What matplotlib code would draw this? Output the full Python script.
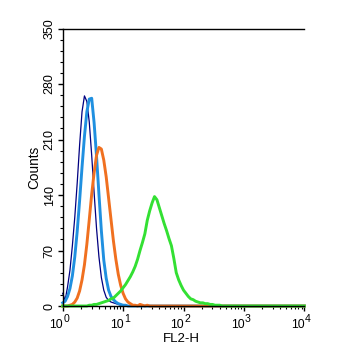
import numpy as np
import matplotlib
matplotlib.use("Agg")
import matplotlib.pyplot as plt
from matplotlib.ticker import MultipleLocator, LogLocator, NullFormatter

# channel positions (log10 of FL2-H), 0.04-decade bins from 10^0 to 10^4
channel_log = np.linspace(0, 4, 101)

navy = [16, 7, 24, 45, 76, 112, 155, 203, 245, 265,
        258, 232, 190, 143, 98, 62, 36, 20, 11, 7,
        5, 4, 3, 2, 1, 1, 0, 0, 0, 0,
        0, 0, 0, 0, 0, 0, 0, 0, 0, 0,
        0, 0, 0, 0, 0, 0, 0, 0, 0, 0,
        0, 0, 0, 0, 0, 0, 0, 0, 0, 0,
        0, 0, 0, 0, 0, 0, 0, 0, 0, 0,
        0, 0, 0, 0, 0, 0, 0, 0, 0, 0,
        0, 0, 0, 0, 0, 0, 0, 0, 0, 0,
        0, 0, 0, 0, 0, 0, 0, 0, 0, 0,
        0]

blue = [4, 6, 12, 22, 38, 62, 94, 133, 175, 214,
        245, 261, 262, 231, 189, 141, 95, 58, 35, 20,
        12, 8, 5, 3, 2, 1, 1, 0, 0, 0,
        0, 0, 0, 0, 0, 0, 0, 0, 0, 0,
        0, 0, 0, 0, 0, 0, 0, 0, 0, 0,
        0, 0, 0, 0, 0, 0, 0, 0, 0, 0,
        0, 0, 0, 0, 0, 0, 0, 0, 0, 0,
        0, 0, 0, 0, 0, 0, 0, 0, 0, 0,
        0, 0, 0, 0, 0, 0, 0, 0, 0, 0,
        0, 0, 0, 0, 0, 0, 0, 0, 0, 0,
        0]

orange = [0, 0, 0, 1, 2, 5, 10, 19, 33, 52,
          78, 109, 141, 168, 190, 200, 198, 184, 163, 136,
          109, 82, 59, 40, 26, 16, 9, 5, 3, 1,
          1, 0, 2, 1, 0, 1, 0, 0, 0, 0,
          0, 0, 0, 0, 0, 0, 0, 0, 0, 0,
          0, 0, 0, 0, 0, 0, 0, 0, 0, 0,
          0, 0, 0, 0, 0, 0, 0, 0, 0, 0,
          0, 0, 0, 0, 0, 0, 0, 0, 0, 0,
          0, 0, 0, 0, 0, 0, 0, 0, 0, 0,
          0, 0, 0, 0, 0, 0, 0, 0, 0, 0,
          0]

green = [0, 0, 0, 0, 0, 0, 0, 0, 0, 0,
         0, 1, 1, 2, 2, 3, 4, 5, 6, 7,
         9, 10, 13, 16, 19, 23, 27, 32, 37, 43,
         50, 59, 70, 80, 91, 108, 120, 130, 138, 134,
         124, 114, 104, 95, 85, 76, 60, 42, 33, 26,
         20, 16, 12, 9, 8, 6, 5, 4, 4, 3,
         3, 2, 2, 1, 1, 1, 0, 0, 0, 0,
         0, 0, 0, 0, 0, 0, 0, 0, 0, 0,
         0, 0, 0, 0, 0, 0, 0, 0, 0, 0,
         0, 0, 0, 0, 0, 0, 0, 0, 0, 0,
         0]

y_ticks = [0, 70, 140, 210, 280, 350]
y_ticklabels = ["0", "70", "140", "210", "280", "350"]
x_decades = [0, 1, 2, 3, 4]

plt.rcParams['font.family'] = ['Liberation Sans', 'DejaVu Sans']

W, H = 347, 352
fig = plt.figure(figsize=(W / 100, H / 100), dpi=100)
x0, x1, ytop, ybot = 62.7, 304.3, 28.5, 306.0
ax = fig.add_axes([x0 / W, 1 - ybot / H, (x1 - x0) / W, (ybot - ytop) / H])

x = 10 ** channel_log
ax.plot(x, navy, color='#000080', lw=0.9, clip_on=False)
ax.plot(x, blue, color='#2090e0', lw=2.1, clip_on=False)
ax.plot(x, orange, color='#f07020', lw=2.1, clip_on=False)
ax.plot(x, green, color='#33e033', lw=2.1, clip_on=False)

ax.set_xscale('log')
ax.set_xlim(1, 1e4)
ax.set_ylim(0, 350)
ax.spines['right'].set_visible(False)
for s in ['left', 'top', 'bottom']:
    ax.spines[s].set_linewidth(1.0)

ax.set_yticks(y_ticks)
ax.set_yticklabels(y_ticklabels, rotation=90, va='center', fontsize=9)
ax.yaxis.set_minor_locator(MultipleLocator(14))
ax.set_xticks([10 ** d for d in x_decades])
ax.set_xticklabels([''] * len(x_decades))
ax.xaxis.set_minor_locator(LogLocator(base=10, subs=np.arange(2, 10), numticks=20))
ax.xaxis.set_minor_formatter(NullFormatter())
ax.tick_params(axis='both', which='major', direction='out', length=3.6, width=1.0)
ax.tick_params(axis='both', which='minor', direction='out', length=2.2, width=0.8)
ax.tick_params(axis='y', which='major', pad=1.5)

# decade labels: "10" right of centre at tick, exponent raised to the right
for d in x_decades:
    ax.annotate('10', xy=(10 ** d, 0), xycoords=('data', 'axes fraction'),
                xytext=(0.3, -16.0), textcoords='offset points',
                ha='right', va='baseline', fontsize=8.8, annotation_clip=False)
    ax.annotate(str(d), xy=(10 ** d, 0), xycoords=('data', 'axes fraction'),
                xytext=(0.6, -11.3), textcoords='offset points',
                ha='left', va='baseline', fontsize=7.6, annotation_clip=False)

ax.text(0.5, 0, 'FL2-H', transform=ax.transAxes, ha='center', va='baseline',
        fontsize=9.5)
ax.texts[-1].set_position((0.49, -35.7 / (ybot - ytop)))
ax.set_ylabel('Counts', fontsize=9.8, labelpad=2)

fig.savefig('out.png', dpi=100)
